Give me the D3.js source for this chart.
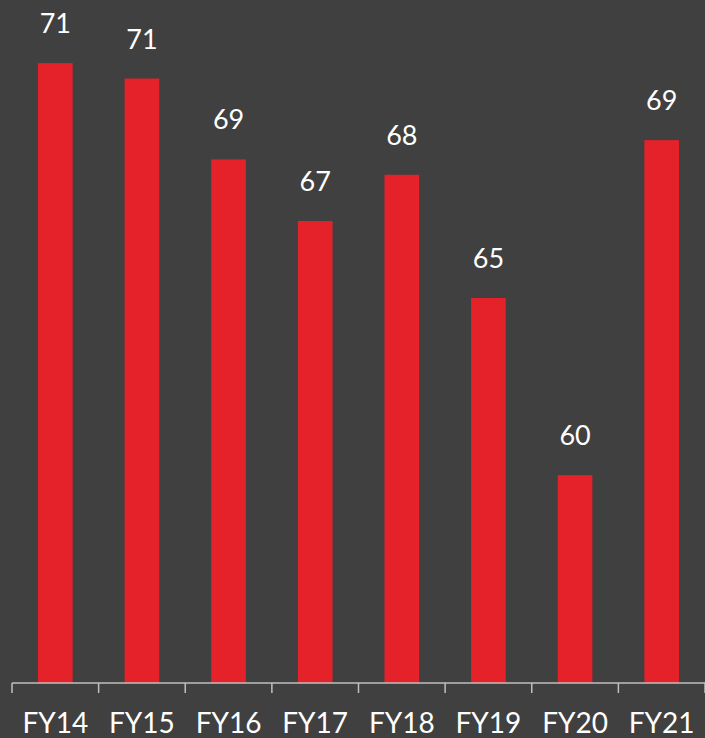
<!DOCTYPE html>
<html>
<head>
<meta charset="utf-8">
<script src="https://cdn.jsdelivr.net/npm/d3@7"></script>
<style>
  html, body { margin: 0; padding: 0; background: #404040; }
  svg { display: block; }
  text { font-family: Lato, "Open Sans", sans-serif; fill: #ffffff; }
</style>
</head>
<body>
<svg id="bar-chart"></svg>
<script>
// chart data
const years = ["FY14", "FY15", "FY16", "FY17", "FY18", "FY19", "FY20", "FY21"];
const scores = [71.1, 70.7, 68.6, 67.0, 68.2, 65.0, 60.4, 69.1];
const yDomain = [55, 72.74];

const svgWidth = 705;
const svgHeight = 738;
const left = 12;
const baseline = 683;

const svg = d3.select("#bar-chart")
  .attr("width", svgWidth)
  .attr("height", svgHeight);

svg.append("rect")
  .attr("width", svgWidth)
  .attr("height", svgHeight)
  .attr("fill", "#404040");

// scales
const xScale = d3.scaleBand()
  .domain(years)
  .range([left, svgWidth])
  .paddingInner(0.6)
  .paddingOuter(0.3);

const yScale = d3.scaleLinear()
  .domain(yDomain)
  .range([baseline, 0]);

// bars
svg.selectAll(".bar")
  .data(years)
  .enter()
  .append("rect")
  .attr("class", "bar")
  .attr("x", d => xScale(d))
  .attr("y", (d, i) => yScale(scores[i]))
  .attr("width", xScale.bandwidth())
  .attr("height", (d, i) => baseline - yScale(scores[i]))
  .attr("fill", "#e52129");

// value labels
svg.selectAll(".value")
  .data(years)
  .enter()
  .append("text")
  .attr("class", "value")
  .attr("x", d => xScale(d) + xScale.bandwidth() / 2)
  .attr("y", (d, i) => yScale(scores[i]) - 30)
  .attr("text-anchor", "middle")
  .attr("font-size", 27)
  .text((d, i) => Math.round(scores[i]));

// x axis: line with ticks between categories
const step = xScale.step();
const axis = svg.append("g").attr("id", "x-axis");
axis.append("line")
  .attr("x1", left).attr("x2", svgWidth)
  .attr("y1", baseline).attr("y2", baseline)
  .attr("stroke", "#bfbfbf").attr("stroke-width", 1.5);

axis.selectAll(".tick")
  .data(d3.range(years.length + 1))
  .enter()
  .append("line")
  .attr("class", "tick")
  .attr("x1", i => left + i * step)
  .attr("x2", i => left + i * step)
  .attr("y1", baseline)
  .attr("y2", baseline + 10)
  .attr("stroke", "#bfbfbf").attr("stroke-width", 1.5);

axis.selectAll(".label")
  .data(years)
  .enter()
  .append("text")
  .attr("class", "label")
  .attr("x", d => xScale(d) + xScale.bandwidth() / 2)
  .attr("y", 733)
  .attr("text-anchor", "middle")
  .attr("font-size", 28)
  .text(d => d);
</script>
</body>
</html>
